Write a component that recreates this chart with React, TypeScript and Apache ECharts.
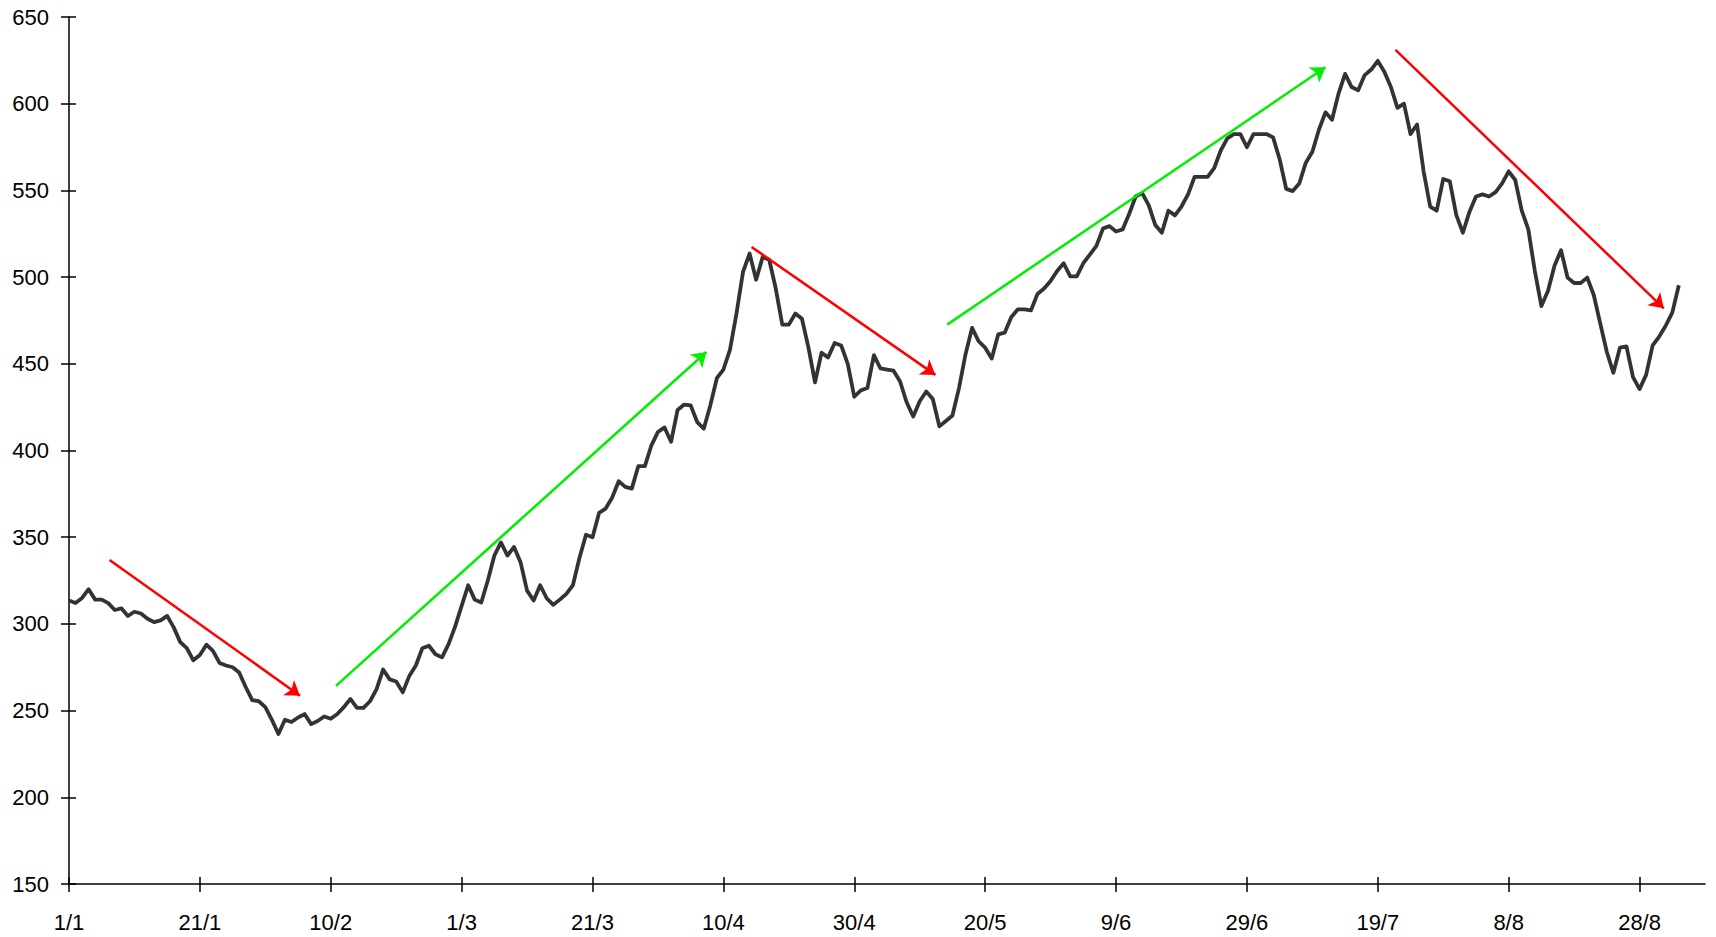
import React, { useEffect, useRef } from 'react';
import * as echarts from 'echarts';

const tickDays = [0, 20, 40, 60, 80, 100, 120, 140, 160, 180, 200, 220, 240];
const tickLabels = ['1/1', '21/1', '10/2', '1/3', '21/3', '10/4', '30/4', '20/5', '9/6', '29/6', '19/7', '8/8', '28/8'];

const priceValues = [
  313.5, 312, 315, 320, 314, 314, 312, 308, 309, 304.6,
  307, 306, 303, 301, 302, 304.6, 298, 289.5, 286, 279,
  282, 288, 284.5, 277.5, 276, 275, 272, 263.6, 256, 255.4,
  252, 244.7, 236.5, 244.7, 243.4, 246, 248, 242.2, 244, 246.6,
  245.3, 248, 252, 256.7, 251.6, 251.6, 255.4, 262.4, 273.7, 268,
  266.8, 260.5, 270, 276, 286, 287.4, 282.5, 280.7, 288.3, 298.4,
  310.4, 322.3, 314, 312.3, 325, 339.4, 347, 339.4, 344.4, 335.6,
  319.2, 313.5, 322.3, 314.8, 311, 314, 317.3, 322.3, 338, 351.4,
  350, 364, 366.5, 372.8, 382.3, 379, 378, 391, 391, 403,
  410.7, 413.3, 405, 423.4, 426.5, 426, 416.4, 412.6, 426, 441.7,
  446.7, 458, 479, 503, 513.6, 498.5, 511.6, 510, 493.4, 472.6,
  472.6, 479, 476, 459.3, 439.3, 456.4, 453.7, 462, 460.6, 450,
  431, 434.7, 436, 455, 447.3, 446.7, 446, 439.8, 427.8, 419.6,
  428.4, 434, 429.7, 413.9, 417, 420.2, 436, 455.5, 470.7, 463,
  459.3, 453, 467, 468, 477, 481.4, 481.4, 480.8, 490.3, 493.4,
  497.8, 503.5, 508, 500.4, 500.4, 508, 513, 518, 528, 529.4,
  526.3, 527.5, 536.4, 546.5, 548.4, 541.4, 530, 525.6, 538.3, 535.6,
  540.7, 547.7, 557.8, 557.8, 557.8, 562.9, 573, 580, 582.5, 582.5,
  574.9, 582.5, 582.5, 582.5, 580.6, 568, 550.9, 549.6, 554, 566,
  572.3, 585, 595, 590.7, 605.8, 617.2, 609.6, 607.7, 616.5, 619.7,
  624.7, 618.4, 609.6, 597.6, 600, 582.5, 588, 561, 540.7, 538.3,
  556.6, 555.3, 535.7, 525.6, 537.6, 546.5, 547.7, 546.5, 549, 554,
  561, 556, 538.3, 527.5, 503.5, 483.3, 492, 506.6, 515.5, 499.7,
  496.6, 496.6, 499.7, 489.7, 473.2, 456.8, 444.8, 459.3, 460, 442.3,
  435.4, 443.6, 460.6, 465.7, 472, 479.5, 495.3,
];

const redArrows = [
  [[6.2, 336.9], [35.3, 258.6]],
  [[104.3, 517.4], [132.4, 443.6]],
  [[202.7, 631], [243.7, 482]],
];
const greenArrows = [
  [[40.8, 264.3], [97.4, 456.8]],
  [[134.2, 472.6], [192, 621]],
];

const FONT = '"Liberation Sans", Arial, sans-serif';

function labelFor(v: number) {
  const i = tickDays.indexOf(v);
  return i >= 0 ? tickLabels[i] : '';
}

export default function App() {
  const ref = useRef<HTMLDivElement>(null);
  useEffect(() => {
    if (!ref.current) return;
    const chart = echarts.init(ref.current, null, { renderer: 'svg' });
    const axisLineStyle = { color: '#000', width: 1.5 };
    chart.setOption({
      animation: false,
      backgroundColor: '#fff',
      grid: { left: 69, right: 11, top: 17, bottom: 53, containLabel: false },
      xAxis: [
        {
          type: 'value', min: 0, max: 250, position: 'bottom',
          axisLine: { show: true, onZero: false, lineStyle: axisLineStyle },
          axisTick: { show: true, inside: false, length: 8, lineStyle: axisLineStyle, customValues: tickDays },
          axisLabel: { show: true, customValues: tickDays, formatter: labelFor, color: '#000', fontSize: 22, fontFamily: FONT, margin: 27 },
          splitLine: { show: false },
        },
        {
          type: 'value', min: 0, max: 250, position: 'bottom',
          axisLine: { show: false },
          axisTick: { show: true, inside: true, length: 7, lineStyle: axisLineStyle, customValues: tickDays },
          axisLabel: { show: false },
          splitLine: { show: false },
        },
      ],
      yAxis: [
        {
          type: 'value', min: 150, max: 650, interval: 50, position: 'left',
          axisLine: { show: true, onZero: false, lineStyle: axisLineStyle },
          axisTick: { show: true, inside: false, length: 8, lineStyle: axisLineStyle },
          axisLabel: { show: true, color: '#000', fontSize: 22, fontFamily: FONT, margin: 20 },
          splitLine: { show: false },
        },
        {
          type: 'value', min: 150, max: 650, interval: 50, position: 'left',
          axisLine: { show: false },
          axisTick: { show: true, inside: true, length: 7, lineStyle: axisLineStyle },
          axisLabel: { show: false },
          splitLine: { show: false },
        },
      ],
      series: [
        {
          type: 'line',
          xAxisIndex: 0, yAxisIndex: 0,
          data: priceValues.map((v, i) => [i, v]),
          showSymbol: false,
          lineStyle: { color: '#333333', width: 3.8, join: 'round' },
          z: 2,
        },
        {
          type: 'lines',
          coordinateSystem: 'cartesian2d',
          xAxisIndex: 0, yAxisIndex: 0,
          data: redArrows.map((c) => ({ coords: c })),
          symbol: ['none', 'arrow'],
          symbolSize: 14,
          lineStyle: { color: '#ff0000', width: 2.5, opacity: 1, curveness: 0 },
          z: 3,
        },
        {
          type: 'lines',
          coordinateSystem: 'cartesian2d',
          xAxisIndex: 0, yAxisIndex: 0,
          data: greenArrows.map((c) => ({ coords: c })),
          symbol: ['none', 'arrow'],
          symbolSize: 14,
          lineStyle: { color: '#00ee00', width: 2.5, opacity: 1, curveness: 0 },
          z: 3,
        },
      ],
    });
    return () => chart.dispose();
  }, []);
  return <div ref={ref} style={{ position: 'fixed', left: 0, top: 0, width: 1716, height: 937 }} />;
}
